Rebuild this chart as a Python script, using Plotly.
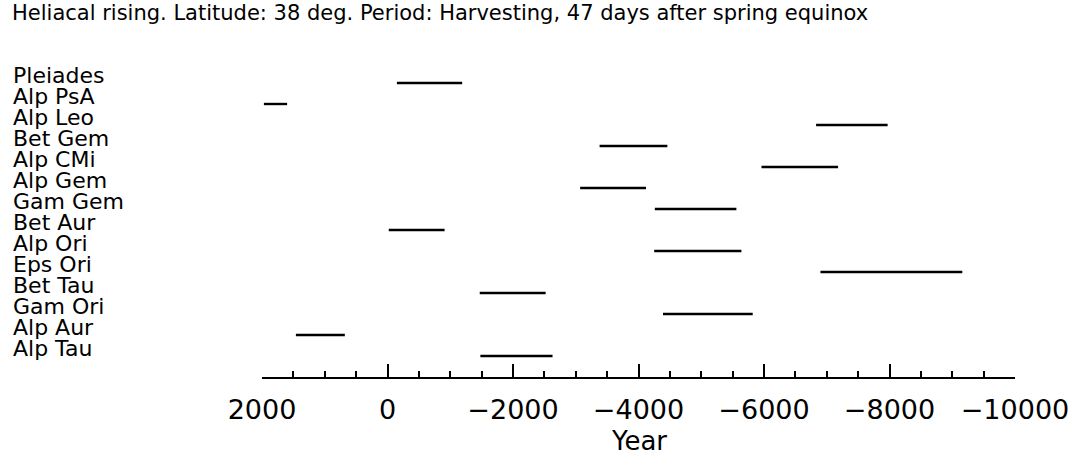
import plotly.graph_objects as go

# Data
stars = ["Pleiades", "Alp PsA", "Alp Leo", "Bet Gem", "Alp CMi", "Alp Gem", "Gam Gem",
         "Bet Aur", "Alp Ori", "Eps Ori", "Bet Tau", "Gam Ori", "Alp Aur", "Alp Tau"]
start_year = [-150, 1970, -6830, -3380, -5960, -3070, -4260,
              -20, -4250, -6900, -1470, -4390, 1460, -1480]
end_year = [-1190, 1600, -7970, -4460, -7180, -4120, -5560,
            -910, -5640, -9160, -2520, -5820, 680, -2630]
positions = list(range(len(stars), 0, -1))  # Pleiades at top

x_tickvals = [2000, 0, -2000, -4000, -6000, -8000, -10000]
x_ticktext = ["2000", "0", "\u22122000", "\u22124000", "\u22126000", "\u22128000", "\u221210000"]

title_text = "Heliacal rising. Latitude: 38 deg. Period: Harvesting, 47 days after spring equinox"
x_title = "Year"

W, H = 1075, 460
L, R, T, B = 262, 60, 62, 83
FONT = "DejaVu Sans"

fig = go.Figure()
xs, ys = [], []
for s, e, p in zip(start_year, end_year, positions):
    xs += [s, e, None]
    ys += [p, p, None]
fig.add_trace(go.Scatter(x=xs, y=ys, mode="lines",
                         line=dict(color="black", width=2.4),
                         showlegend=False, hoverinfo="skip"))

pw = W - L - R
ph = H - T - B
for name, p in zip(stars, positions):
    fig.add_annotation(text=name, x=(12 - L) / pw, xref="paper", y=p, yref="y",
                       xanchor="left", yanchor="middle", yshift=8, showarrow=False,
                       borderpad=0,
                       font=dict(family=FONT, size=22, color="black"))

fig.add_annotation(text=x_title, x=0.5, xref="paper", y=-(441 - (H - B)) / ph,
                   yref="paper", xanchor="center", yanchor="middle", showarrow=False,
                   borderpad=0,
                   font=dict(family=FONT, size=26, color="black"))

fig.update_layout(
    width=W, height=H,
    margin=dict(l=L, r=R, t=T, b=B, autoexpand=False),
    paper_bgcolor="white", plot_bgcolor="white",
    title=dict(text=title_text, x=12 / W, xanchor="left", xref="container",
               y=1 - 13 / H, yanchor="middle", yref="container",
               pad=dict(l=0, r=0, t=0, b=0),
               font=dict(family=FONT, size=21, color="black")),
    xaxis=dict(range=[2000, -10000], tickvals=x_tickvals, ticktext=x_ticktext,
               automargin=False,
               showline=True, linecolor="black", linewidth=2, mirror=False,
               ticks="inside", ticklen=13, tickwidth=2, tickcolor="black",
               minor=dict(dtick=500, ticks="inside", ticklen=6, tickwidth=2,
                          tickcolor="black", showgrid=False),
               showgrid=False, zeroline=False, ticklabelstandoff=8,
               tickfont=dict(family=FONT, size=27, color="black")),
    yaxis=dict(range=[0, 15], visible=False, showgrid=False, zeroline=False,
               automargin=False),
)

# remove the default 8px page margin so the figure fills the window exactly
fig.write_html("out.html", config={"displayModeBar": False, "staticPlot": True},
               post_script="document.body.style.margin='0';document.body.style.overflow='hidden';")
